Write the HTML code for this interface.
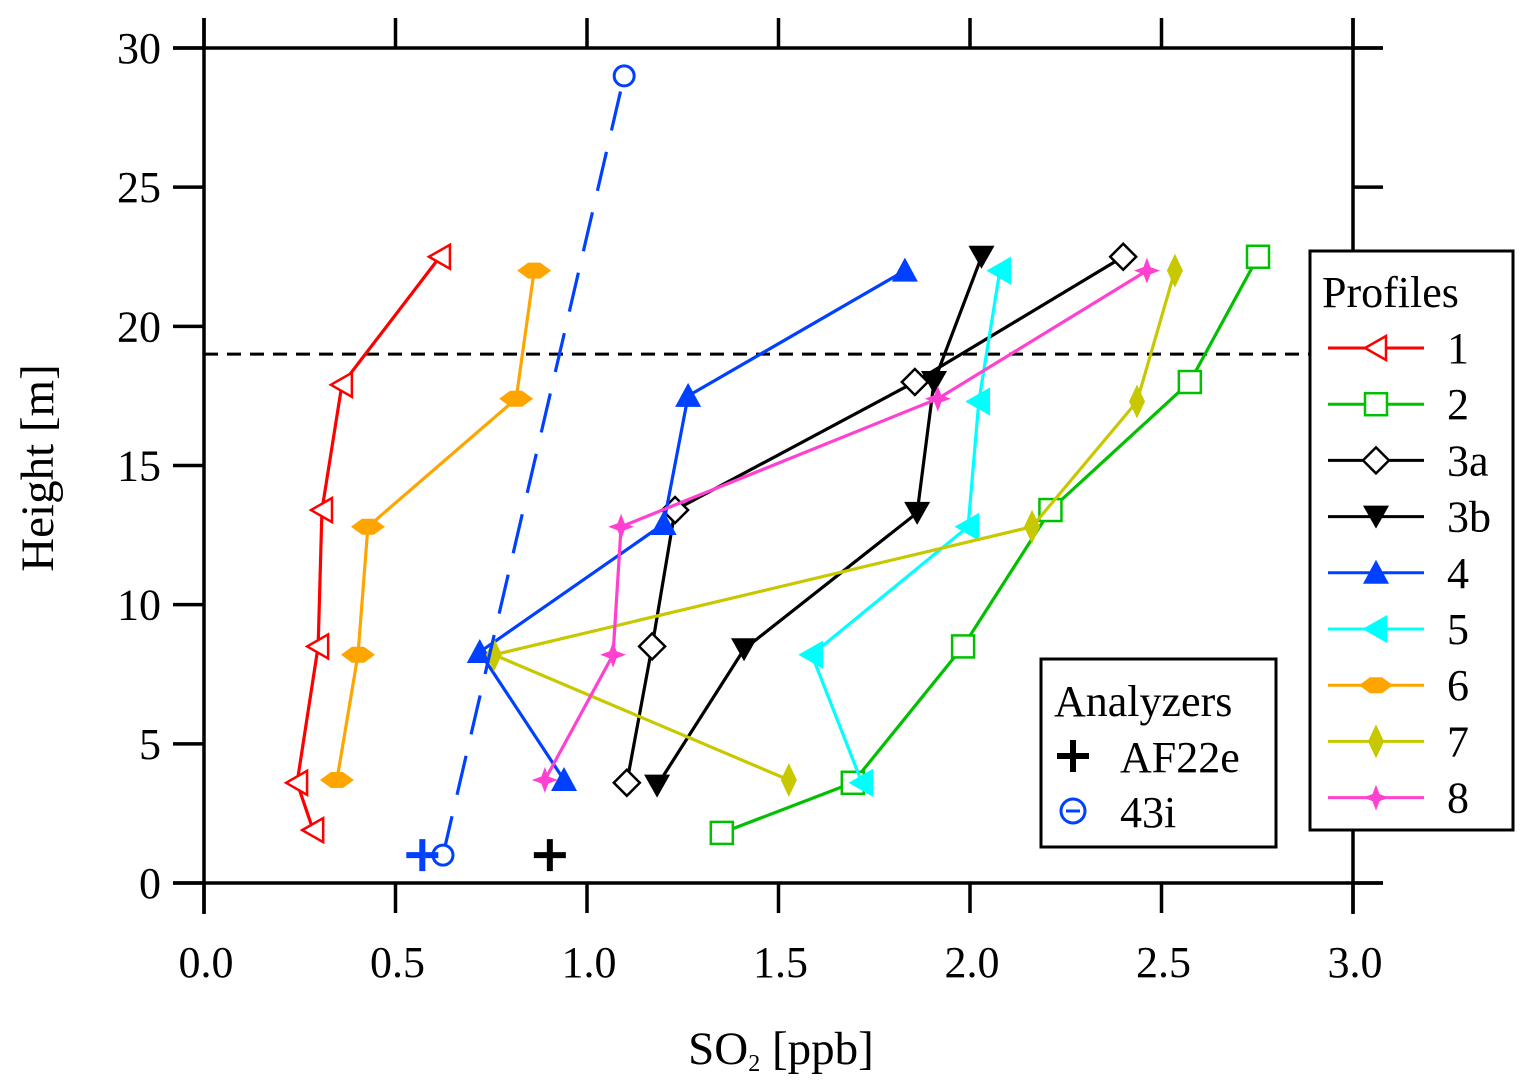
<!DOCTYPE html>
<html><head><meta charset="utf-8"><style>
html,body{margin:0;padding:0;background:#fff;}
svg{display:block;font-family:"Liberation Serif",serif;}
</style></head><body>
<svg id="chart" width="1534" height="1091" viewBox="0 0 1534 1091" xmlns="http://www.w3.org/2000/svg">
<g id="axes"></g>
<g id="series"></g>
<g id="legend"></g>
<g id="legend2"></g>
</svg>
<script>
const xTicks=[0,0.5,1.0,1.5,2.0,2.5,3.0];
const xTickLabels=["0.0","0.5","1.0","1.5","2.0","2.5","3.0"];
const yTicks=[0,5,10,15,20,25,30];
const seriesNames=["1","2","3a","3b","4","5","6","7","8"];
const s1x=[0.285,0.243,0.298,0.308,0.36,0.616];
const s1y=[1.9,3.6,8.5,13.4,17.9,22.5];
const s2x=[1.352,1.694,1.982,2.21,2.574,2.752];
const s2y=[1.8,3.6,8.5,13.4,18.0,22.5];
const s3ax=[1.104,1.17,1.23,1.856,2.4];
const s3ay=[3.6,8.5,13.4,18.0,22.5];
const s3bx=[1.183,1.41,1.862,1.906,2.03];
const s3by=[3.5,8.4,13.3,18.0,22.5];
const s4x=[0.94,0.72,1.2,1.264,1.83];
const s4y=[3.7,8.3,12.9,17.5,22.0];
const s5x=[1.718,1.587,1.995,2.023,2.078];
const s5y=[3.6,8.2,12.8,17.3,22.0];
const s6x=[0.347,0.402,0.428,0.815,0.862];
const s6y=[3.7,8.2,12.8,17.4,22.0];
const s7x=[1.527,0.757,2.162,2.436,2.535];
const s7y=[3.7,8.2,12.8,17.3,22.0];
const s8x=[0.89,1.068,1.089,1.916,2.462];
const s8y=[3.7,8.2,12.8,17.4,22.0];
const i43x=[0.624,1.097];
const i43y=[1.0,29.0];
const afx=[0.903,0.57];
const afy=[1.0,1.0];
const refHeight=19;

const NS="http://www.w3.org/2000/svg";
const X=v=>204+v*383;
const Y=v=>883-v*27.833;
function mk(parent,tag,attrs,name){const e=document.createElementNS(NS,tag);for(const k in attrs)e.setAttribute(k,attrs[k]);


parent.appendChild(e);return e;}
const axes=document.getElementById('axes');
mk(axes,'line',{x1:173,y1:48,x2:1383,y2:48,stroke:'#000','stroke-width':3.5},'top-axis');
mk(axes,'line',{x1:173,y1:883,x2:1383,y2:883,stroke:'#000','stroke-width':3.5},'x-axis');
mk(axes,'line',{x1:204,y1:18,x2:204,y2:914,stroke:'#000','stroke-width':3.5},'y-axis');
mk(axes,'line',{x1:1353,y1:18,x2:1353,y2:914,stroke:'#000','stroke-width':3.5},'right-axis');
xTicks.forEach((v,i)=>{const x=X(v);
 mk(axes,'line',{x1:x,y1:18,x2:x,y2:48,stroke:'#000','stroke-width':3.5},'x-tick-top');
 mk(axes,'line',{x1:x,y1:883,x2:x,y2:913,stroke:'#000','stroke-width':3.5},'x-tick');
 const t=mk(axes,'text',{x:x+2,y:977,'font-size':44,'text-anchor':'middle'},'x-tick-label');t.textContent=xTickLabels[i];});
yTicks.forEach(v=>{const y=Y(v);
 mk(axes,'line',{x1:173,y1:y,x2:204,y2:y,stroke:'#000','stroke-width':3.5},'y-tick');
 mk(axes,'line',{x1:1353,y1:y,x2:1383,y2:y,stroke:'#000','stroke-width':3.5},'y-tick-right');
 const t=mk(axes,'text',{x:161,y:y+15,'font-size':44,'text-anchor':'end'},'y-tick-label');t.textContent=String(v);});
let t=mk(axes,'text',{x:0,y:0,'font-size':47,'text-anchor':'middle',transform:'translate(53,468) rotate(-90)'},'y-axis-title');t.textContent='Height [m]';
t=mk(axes,'text',{x:781,y:1064,'font-size':47,'text-anchor':'middle'},'x-axis-title');
t.innerHTML='SO<tspan font-size="24" dy="7">2</tspan><tspan dy="-7">  [ppb]</tspan>';
mk(axes,'line',{x1:204,y1:Y(refHeight),x2:1310,y2:Y(refHeight),stroke:'#000','stroke-width':3,'stroke-dasharray':'14,9'},'reference-height-line');

function marker(g,type,cx,cy,color,s){
 s=s||1;let e;
 if(type==='ltri-open'||type==='ltri'){e=mk(g,'polygon',{points:`${cx-11*s},${cy} ${cx+10*s},${cy-12*s} ${cx+10*s},${cy+12*s}`,fill:type==='ltri'?color:'#fff',stroke:color,'stroke-width':2.5},'marker');}
 else if(type==='sq-open'){e=mk(g,'rect',{x:cx-11*s,y:cy-11*s,width:22*s,height:22*s,fill:'#fff',stroke:color,'stroke-width':2.5},'marker');}
 else if(type==='dia-open'){e=mk(g,'polygon',{points:`${cx},${cy-13*s} ${cx+13*s},${cy} ${cx},${cy+13*s} ${cx-13*s},${cy}`,fill:'#fff',stroke:color,'stroke-width':2.5},'marker');}
 else if(type==='dtri'){e=mk(g,'polygon',{points:`${cx-13*s},${cy-11*s} ${cx+13*s},${cy-11*s} ${cx},${cy+12*s}`,fill:color},'marker');}
 else if(type==='utri'){e=mk(g,'polygon',{points:`${cx-13*s},${cy+11*s} ${cx+13*s},${cy+11*s} ${cx},${cy-13*s}`,fill:color},'marker');}
 else if(type==='hdia'){e=mk(g,'polygon',{points:`${cx-17*s},${cy} ${cx-6*s},${cy-8*s} ${cx+6*s},${cy-8*s} ${cx+17*s},${cy} ${cx+6*s},${cy+8*s} ${cx-6*s},${cy+8*s}`,fill:color},'marker');}
 else if(type==='vdia'){e=mk(g,'polygon',{points:`${cx},${cy-17*s} ${cx+8*s},${cy} ${cx},${cy+17*s} ${cx-8*s},${cy}`,fill:color},'marker');}
 else if(type==='star'){let p=[];for(let i=0;i<8;i++){const a=i*Math.PI/4-Math.PI/2;const r=(i%2?5:13)*s;p.push((cx+r*Math.cos(a))+','+(cy+r*Math.sin(a)));}
  e=mk(g,'polygon',{points:p.join(' '),fill:color},'marker');}
 else if(type==='circ'){e=mk(g,'circle',{cx:cx,cy:cy,r:10*s,fill:'#fff',stroke:color,'stroke-width':3},'marker');}
 else if(type==='circbar'){mk(g,'circle',{cx:cx,cy:cy,r:10*s,fill:'#fff',stroke:color,'stroke-width':3},'marker');
  e=mk(g,'line',{x1:cx-7,y1:cy,x2:cx+7,y2:cy,stroke:color,'stroke-width':3},'marker-bar');}
 else if(type==='plus'){mk(g,'line',{x1:cx-16*s,y1:cy,x2:cx+16*s,y2:cy,stroke:color,'stroke-width':6},'marker');
  e=mk(g,'line',{x1:cx,y1:cy-16*s,x2:cx,y2:cy+16*s,stroke:color,'stroke-width':6},'marker');}
 return e;
}
const defs=[
 ['1',s1x,s1y,'#ff0000','ltri-open'],
 ['2',s2x,s2y,'#00c000','sq-open'],
 ['3a',s3ax,s3ay,'#000000','dia-open'],
 ['3b',s3bx,s3by,'#000000','dtri'],
 ['4',s4x,s4y,'#0040ff','utri'],
 ['5',s5x,s5y,'#00ffff','ltri'],
 ['6',s6x,s6y,'#ffa500','hdia'],
 ['7',s7x,s7y,'#c8c800','vdia'],
 ['8',s8x,s8y,'#ff40d0','star']
];
const sg=document.getElementById('series');
defs.forEach(d=>{
 const g=mk(sg,'g',{},'profile-'+d[0]);
 const pts=d[1].map((v,i)=>X(v)+','+Y(d[2][i])).join(' ');
 mk(g,'polyline',{points:pts,fill:'none',stroke:d[3],'stroke-width':3.2},'profile-line-'+d[0]);
 d[1].forEach((v,i)=>marker(g,d[4],X(v),Y(d[2][i]),d[3]));
});
const gi=mk(sg,'g',{},'analyzer-43i');
mk(gi,'polyline',{points:i43x.map((v,i)=>X(v)+','+Y(i43y[i])).join(' '),fill:'none',stroke:'#0040ff','stroke-width':3.2,'stroke-dasharray':'40,22'},'43i-line');
i43x.forEach((v,i)=>marker(gi,'circ',X(v),Y(i43y[i]),'#0040ff'));
const ga=mk(sg,'g',{},'analyzer-af22e');
afx.forEach((v,i)=>marker(ga,'plus',X(v),Y(afy[i]),i===0?'#000':'#0040ff'));

const lg=document.getElementById('legend');
mk(lg,'rect',{x:1310,y:251,width:203,height:579,fill:'#fff',stroke:'#000','stroke-width':3},'legend-box');
t=mk(lg,'text',{x:1322,y:307,'font-size':44},'legend-title');t.textContent='Profiles';
defs.forEach((d,i)=>{const y=348+i*56.2;
 const e=mk(lg,'g',{},'legend-entry');
 mk(e,'line',{x1:1328,y1:y,x2:1424,y2:y,stroke:d[3],'stroke-width':3},'legend-line');
 marker(e,d[4],1376,y,d[3]);
 const tx=mk(e,'text',{x:1447,y:y+15,'font-size':44},'legend-label');tx.textContent=d[0];});
const l2=document.getElementById('legend2');
mk(l2,'rect',{x:1041,y:659,width:235,height:188,fill:'#fff',stroke:'#000','stroke-width':3},'analyzers-box');
t=mk(l2,'text',{x:1054,y:716,'font-size':44},'analyzers-title');t.textContent='Analyzers';
marker(l2,'plus',1073,756,'#000');
t=mk(l2,'text',{x:1120,y:772,'font-size':44},'legend-label-af22e');t.textContent='AF22e';
marker(l2,'circbar',1073,811,'#0040ff',1.2);
t=mk(l2,'text',{x:1120,y:827,'font-size':44},'legend-label-43i');t.textContent='43i';
</script>
</body></html>
